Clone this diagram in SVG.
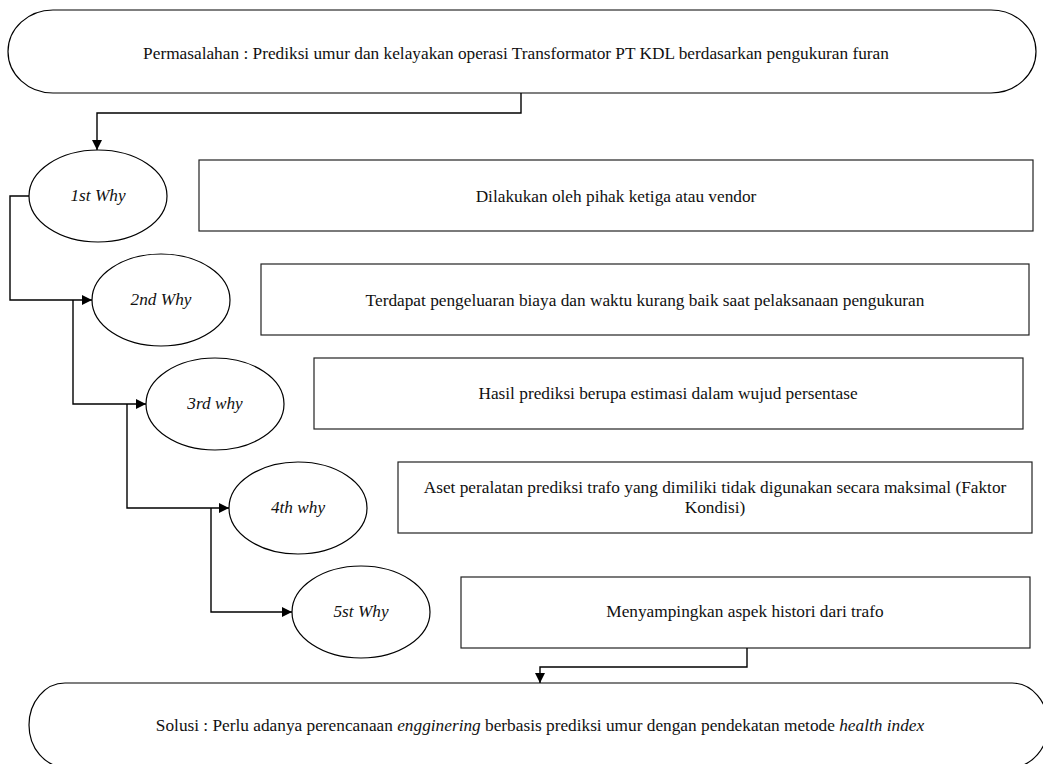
<svg xmlns="http://www.w3.org/2000/svg" width="1043" height="764" viewBox="0 0 1043 764">
<style>
.shape{fill:#fff;stroke:#000;stroke-width:1.2}
.box{fill:#fff;stroke:#222;stroke-width:1.2}
.t{font-family:"Liberation Serif","Times New Roman","DejaVu Serif",serif;font-size:17.3px;fill:#111;text-anchor:middle}
.i{font-style:italic}
.conn{fill:none;stroke:#000;stroke-width:1.4}
</style>
<defs>
<marker id="arr" viewBox="0 0 10 10" refX="10" refY="5" markerWidth="10" markerHeight="10" markerUnits="userSpaceOnUse" orient="auto">
<path d="M0,0 L10,5 L0,10 z" fill="#000"/>
</marker>
</defs>
<rect width="1043" height="764" fill="#fff"/>
<g id="problem">
<rect class="shape" x="8" y="10" width="1028" height="83" rx="45" ry="41.5"/>
<text class="t" font-family="Liberation Serif, serif" x="516" y="59">Permasalahan : Prediksi umur dan kelayakan operasi Transformator PT KDL berdasarkan pengukuran furan</text>
</g>
<g id="why1">
<ellipse class="shape" cx="98" cy="196" rx="69" ry="46"/>
<text class="t i" font-family="Liberation Serif, serif" x="98" y="201">1st Why</text>
</g>
<g id="box1">
<rect class="box" x="199" y="160" width="834" height="71"/>
<text class="t" font-family="Liberation Serif, serif" x="616" y="202">Dilakukan oleh pihak ketiga atau vendor</text>
</g>
<g id="why2">
<ellipse class="shape" cx="161" cy="300" rx="69" ry="46"/>
<text class="t i" font-family="Liberation Serif, serif" x="161" y="305">2nd Why</text>
</g>
<g id="box2">
<rect class="box" x="261" y="264" width="768" height="71"/>
<text class="t" font-family="Liberation Serif, serif" x="645" y="306">Terdapat pengeluaran biaya dan waktu kurang baik saat pelaksanaan pengukuran</text>
</g>
<g id="why3">
<ellipse class="shape" cx="215" cy="404" rx="69" ry="46"/>
<text class="t i" font-family="Liberation Serif, serif" x="215" y="409">3rd why</text>
</g>
<g id="box3">
<rect class="box" x="314" y="358" width="709" height="71"/>
<text class="t" font-family="Liberation Serif, serif" x="668" y="399">Hasil prediksi berupa estimasi dalam wujud persentase</text>
</g>
<g id="why4">
<ellipse class="shape" cx="298" cy="508" rx="69" ry="46"/>
<text class="t i" font-family="Liberation Serif, serif" x="298" y="513">4th why</text>
</g>
<g id="box4">
<rect class="box" x="398" y="462" width="634" height="71"/>
<text class="t" font-family="Liberation Serif, serif" x="715" y="493">Aset peralatan prediksi trafo yang dimiliki tidak digunakan secara maksimal (Faktor</text>
<text class="t" font-family="Liberation Serif, serif" x="715" y="513">Kondisi)</text>
</g>
<g id="why5">
<ellipse class="shape" cx="361" cy="612" rx="69" ry="46"/>
<text class="t i" font-family="Liberation Serif, serif" x="361" y="617">5st Why</text>
</g>
<g id="box5">
<rect class="box" x="461" y="577" width="569" height="71"/>
<text class="t" font-family="Liberation Serif, serif" x="745" y="617">Menyampingkan aspek histori dari trafo</text>
</g>
<g id="solution">
<rect class="shape" x="29" y="683" width="1019" height="84" rx="36" ry="42"/>
<text class="t" font-family="Liberation Serif, serif" font-size="17.6" x="540" y="731">Solusi : Perlu adanya perencanaan <tspan class="i">engginering</tspan> berbasis prediksi umur dengan pendekatan metode <tspan class="i">health index</tspan></text>
</g>
<g id="connectors">
<path class="conn" d="M521,93 V113 H97 V150" marker-end="url(#arr)"/>
<path class="conn" d="M29,196 H10 V300 H92" marker-end="url(#arr)"/>
<path class="conn" d="M73,300 V404 H146" marker-end="url(#arr)"/>
<path class="conn" d="M127,404 V508 H229" marker-end="url(#arr)"/>
<path class="conn" d="M211,508 V612 H292" marker-end="url(#arr)"/>
<path class="conn" d="M747,648 V667 H540 V683" marker-end="url(#arr)"/>
</g>
</svg>
